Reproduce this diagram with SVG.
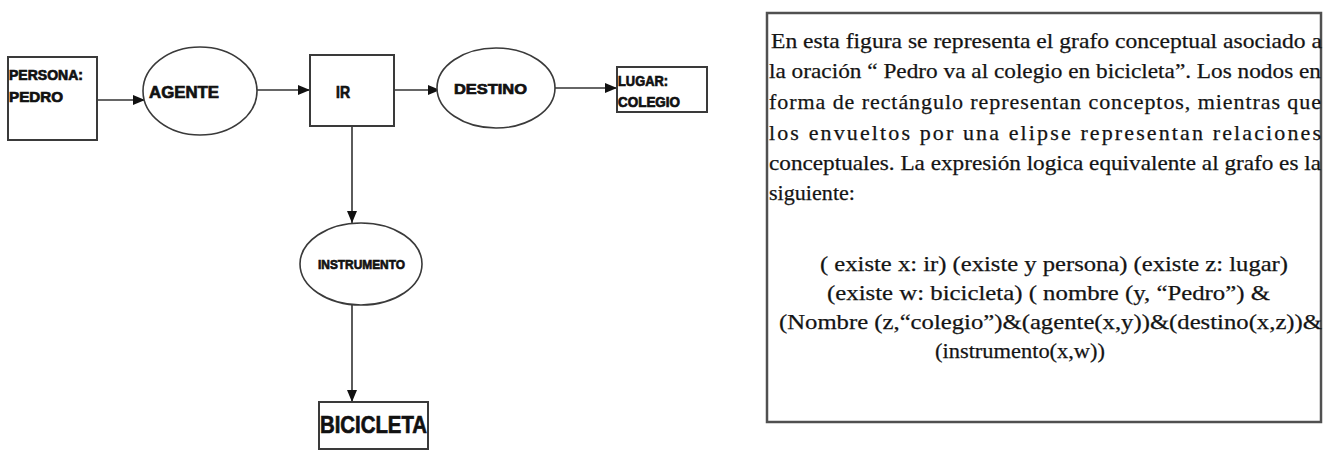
<svg xmlns="http://www.w3.org/2000/svg" width="1335" height="450" viewBox="0 0 1335 450">
  <style>
    .concept { fill: #ffffff; stroke: #3a3a3a; stroke-width: 2; }
    .relation { fill: #ffffff; stroke: #3a3a3a; stroke-width: 1.6; }
    .lbl { font-family: "Liberation Sans", Arial, sans-serif; font-weight: bold; fill: #111111; stroke: #111111; stroke-width: 0.7; }
    .edge { stroke: #333333; stroke-width: 1.6; fill: none; marker-end: url(#head); }
    .note { font-family: "Liberation Serif", "Times New Roman", serif; font-size: 22px; fill: #141414; stroke: #141414; stroke-width: 0.25; }
    .frame { fill: #ffffff; stroke: #505050; stroke-width: 2.5; }
  </style>
  <defs>
    <marker id="head" viewBox="0 0 12 10" refX="12" refY="5" markerWidth="12" markerHeight="10" markerUnits="userSpaceOnUse" orient="auto">
      <path d="M0,0 L12,5 L0,10 Z" fill="#111111"/>
    </marker>
  </defs>
  <rect width="1335" height="450" fill="#ffffff"/>

  <!-- connectors -->
  <g id="connectors">
    <line class="edge" x1="98" y1="100" x2="145" y2="100"/>
    <line class="edge" x1="257" y1="90" x2="310" y2="90"/>
    <line class="edge" x1="394" y1="90" x2="440" y2="90"/>
    <line class="edge" x1="555" y1="88" x2="617" y2="88"/>
    <line class="edge" x1="352" y1="126" x2="352" y2="223"/>
    <line class="edge" x1="352" y1="305" x2="352" y2="402"/>
  </g>

  <!-- concept graph -->
  <g id="persona">
    <rect class="concept" x="8" y="57" width="89" height="83"/>
    <text class="lbl" x="9" y="80" font-size="14" textLength="74" lengthAdjust="spacingAndGlyphs">PERSONA:</text>
    <text class="lbl" x="9" y="102" font-size="14" textLength="54" lengthAdjust="spacingAndGlyphs">PEDRO</text>
  </g>
  <g id="agente">
    <ellipse class="relation" cx="200" cy="91" rx="57" ry="44"/>
    <text class="lbl" x="149" y="98" font-size="17" textLength="70" lengthAdjust="spacingAndGlyphs">AGENTE</text>
  </g>
  <g id="ir">
    <rect class="concept" x="310" y="55" width="84" height="71"/>
    <text class="lbl" x="336" y="98" font-size="16" textLength="14" lengthAdjust="spacingAndGlyphs">IR</text>
  </g>
  <g id="destino">
    <ellipse class="relation" cx="496" cy="88" rx="59" ry="40"/>
    <text class="lbl" x="454" y="94" font-size="15" textLength="73" lengthAdjust="spacingAndGlyphs">DESTINO</text>
  </g>
  <g id="lugar">
    <rect class="concept" x="617" y="67" width="90" height="45"/>
    <text class="lbl" x="618" y="86" font-size="14" textLength="50" lengthAdjust="spacingAndGlyphs">LUGAR:</text>
    <text class="lbl" x="618" y="107" font-size="14" textLength="62" lengthAdjust="spacingAndGlyphs">COLEGIO</text>
  </g>
  <g id="instrumento">
    <ellipse class="relation" cx="361" cy="264" rx="61" ry="41"/>
    <text class="lbl" x="318" y="269" font-size="13" textLength="87" lengthAdjust="spacingAndGlyphs">INSTRUMENTO</text>
  </g>
  <g id="bicicleta">
    <rect class="concept" x="319" y="402" width="109" height="47"/>
    <text class="lbl" x="320" y="433" font-size="24" textLength="107" lengthAdjust="spacingAndGlyphs">BICICLETA</text>
  </g>

  <!-- explanatory note -->
  <g id="note">
    <rect class="frame" x="767" y="13" width="554" height="409"/>
    <text class="note" x="771" y="48" textLength="551" lengthAdjust="spacingAndGlyphs">En esta figura se representa el grafo conceptual asociado a</text>
    <text class="note" x="769" y="78" textLength="552" lengthAdjust="spacingAndGlyphs">la oración “ Pedro va al colegio en bicicleta”. Los nodos en</text>
    <text class="note" x="769" y="109" textLength="552" lengthAdjust="spacing">forma de rectángulo representan conceptos, mientras que</text>
    <text class="note" x="769" y="140" textLength="552" lengthAdjust="spacing">los envueltos por una elipse representan relaciones</text>
    <text class="note" x="769" y="170" textLength="552" lengthAdjust="spacingAndGlyphs">conceptuales. La expresión logica equivalente al grafo es la</text>
    <text class="note" x="769" y="200" textLength="86" lengthAdjust="spacingAndGlyphs">siguiente:</text>
    <text class="note" x="820" y="271" textLength="468" lengthAdjust="spacingAndGlyphs">( existe x: ir) (existe y persona) (existe z: lugar)</text>
    <text class="note" x="827" y="300" textLength="443" lengthAdjust="spacingAndGlyphs">(existe w: bicicleta) ( nombre (y, “Pedro”) &amp;</text>
    <text class="note" x="779" y="329" textLength="543" lengthAdjust="spacingAndGlyphs">(Nombre (z,“colegio”)&amp;(agente(x,y))&amp;(destino(x,z))&amp;</text>
    <text class="note" x="935" y="358" textLength="170" lengthAdjust="spacingAndGlyphs">(instrumento(x,w))</text>
  </g>
</svg>
